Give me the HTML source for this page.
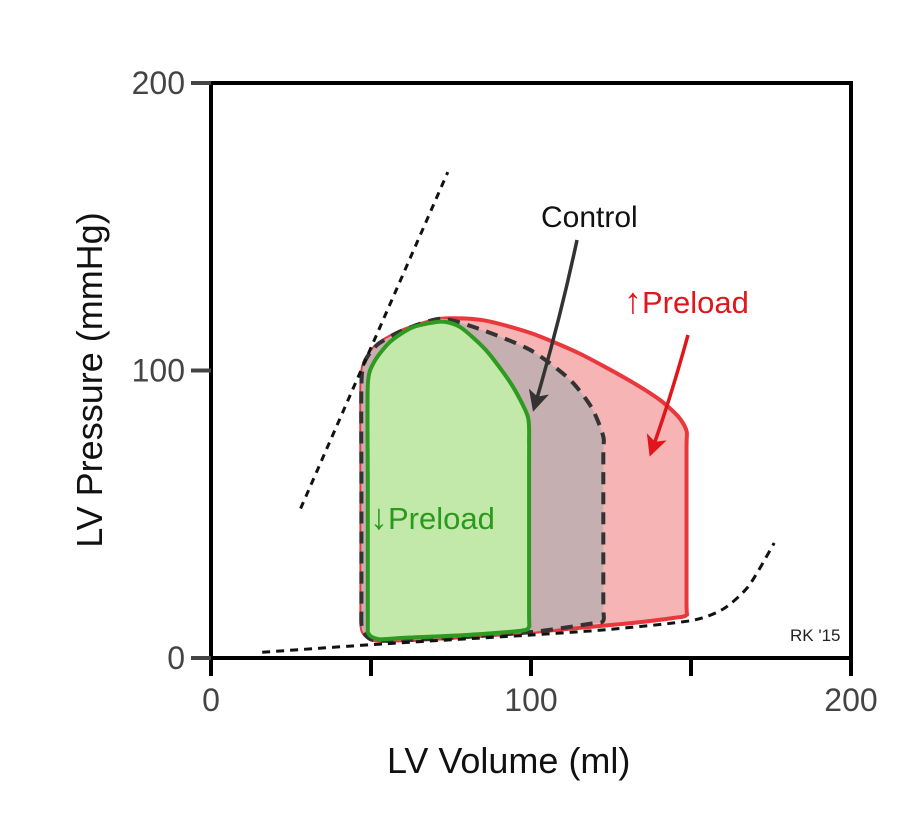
<!DOCTYPE html>
<html><head><meta charset="utf-8"><style>
body{margin:0;background:#fff}
svg{display:block;font-family:"Liberation Sans",sans-serif}
</style></head><body>
<svg id="c" width="909" height="813" viewBox="0 0 909 813"></svg>
<script>
const xTicks=[0,50,100,150,200];
const xTickLabels=["0","","100","","200"];
const yTicks=[0,100,200];
const yTickLabels=["0","100","200"];
const redLoopX=[47,47,47,47,48,52,60,72,85,100,115,130,140,146,148.6,148.6,148.6,148.6,145,130,100,75,55,50,47.5];
const redLoopY=[12,20,60,95,103,109,114,118,117.5,113,106,97,90,84,79,72,20,15,14,12,9,7,6,6.5,9];
const controlLoopX=[47,47,47,47,48,52,60,72,85,100,112,119,122.6,122.6,122.6,122.6,119,100,75,55,50,47.5];
const controlLoopY=[12,20,60,95,103,109,114,118,114,107,97,87,77,70,20,13,12,9,7,6,6.5,9];
const greenLoopX=[49,49,49,49,51,56,63,72,78,86,94,99,99.4,99.4,99.4,99.4,97,80,60,53,50,49];
const greenLoopY=[10,20,60,95,103,110,115,117,115,107,95,84,75,68,16,11,9.5,8,7,6.5,7.5,9];
const edpvrX=[16,55,100,125,150,160,168,176];
const edpvrY=[2,5,8,10,13,17,25,40];
const espvrX=[28,74];
const espvrY=[52,169];

const X0=211,X1=851,Y0=658,Y1=83;
const sx=v=>X0+(X1-X0)*v/200;
const sy=v=>Y0-(Y0-Y1)*v/200;
const NS="http://www.w3.org/2000/svg";
const svg=document.getElementById('c');
function mk(tag,attrs,parent){const e=document.createElementNS(NS,tag);for(const k in attrs)e.setAttribute(k,attrs[k]);(parent||svg).appendChild(e);return e;}
function smooth(xs,ys,closed){
  const p=xs.map((x,i)=>[sx(x),sy(ys[i])]);const n=p.length;
  let d=`M${p[0][0]},${p[0][1]}`;
  const last=closed?n:n-1;
  for(let i=0;i<last;i++){
    const p0=p[closed?(i-1+n)%n:Math.max(i-1,0)],p1=p[i],p2=p[(i+1)%n],p3=p[closed?(i+2)%n:Math.min(i+2,n-1)];
    const t=0.12;
    d+=` C${p1[0]+(p2[0]-p0[0])*t},${p1[1]+(p2[1]-p0[1])*t} ${p2[0]-(p3[0]-p1[0])*t},${p2[1]-(p3[1]-p1[1])*t} ${p2[0]},${p2[1]}`;
  }
  return d+(closed?'Z':'');
}
let e;
e=mk('path',{d:smooth(redLoopX,redLoopY,true),fill:'#f7b4b5',stroke:'#e8383d','stroke-width':4,'stroke-linejoin':'round'});


e=mk('path',{d:smooth(controlLoopX,controlLoopY,true),fill:'#c6afb1',stroke:'#333','stroke-width':4,'stroke-dasharray':'12 8'});


e=mk('path',{d:smooth(greenLoopX,greenLoopY,true),fill:'#c3e9aa',stroke:'#2e9a20','stroke-width':4,'stroke-linejoin':'round'});


e=mk('path',{d:smooth(edpvrX,edpvrY,false),fill:'none',stroke:'#111','stroke-width':3,'stroke-dasharray':'8 6'});


e=mk('line',{x1:sx(espvrX[0]),y1:sy(espvrY[0]),x2:sx(espvrX[1]),y2:sy(espvrY[1]),stroke:'#111','stroke-width':3,'stroke-dasharray':'7 6'});


e=mk('rect',{x:X0,y:Y1,width:X1-X0,height:Y0-Y1,fill:'none',stroke:'#000','stroke-width':4});


xTicks.forEach((t,i)=>{
  const l=mk('line',{x1:sx(t),x2:sx(t),y1:Y0,y2:Y0+18,stroke:'#000','stroke-width':4});
  
  
  if(xTickLabels[i]){const tx=mk('text',{x:sx(t),y:711,'text-anchor':'middle','font-size':32,fill:'#444'});tx.textContent=xTickLabels[i];
  
  }
});
yTicks.forEach((t,i)=>{
  const l=mk('line',{x1:X0-20,x2:X0,y1:sy(t),y2:sy(t),stroke:'#444','stroke-width':4});
  
  
  const tx=mk('text',{x:X0-26,y:sy(t)+11,'text-anchor':'end','font-size':32,fill:'#444'});tx.textContent=yTickLabels[i];
  
  
});
mk('defs',{}).innerHTML='<marker id="ab" markerWidth="6" markerHeight="6" refX="4" refY="3" orient="auto"><path d="M0,0 L6,3 L0,6 L1.5,3Z" fill="#333"/></marker><marker id="ar" markerWidth="6" markerHeight="6" refX="4" refY="3" orient="auto"><path d="M0,0 L6,3 L0,6 L1.5,3Z" fill="#e0161c"/></marker>';
e=mk('path',{d:'M577,240 Q560,320 535,405',fill:'none',stroke:'#333','stroke-width':3.5,'marker-end':'url(#ab)'});


e=mk('path',{d:'M688,335 Q670,400 652,450',fill:'none',stroke:'#e0161c','stroke-width':3.5,'marker-end':'url(#ar)'});


</script>
<div style="position:absolute;left:0;top:0;width:909px;height:813px;pointer-events:none;font-family:'Liberation Sans',sans-serif">
<div style="position:absolute;left:541px;top:201px;font-size:30px;color:#111">Control</div>
<div style="position:absolute;left:624px;top:280px;font-size:31px;color:#e0161c"><span style="font-size:36px">↑</span>Preload</div>
<div style="position:absolute;left:370px;top:496px;font-size:31px;color:#2a9a1d"><span style="font-size:36px">↓</span>Preload</div>
<div style="position:absolute;left:790px;top:626px;font-size:17px;color:#222">RK '15</div>
<div style="position:absolute;left:387px;top:740px;font-size:36px;color:#111">LV Volume (ml)</div>
<div style="position:absolute;left:90px;top:380px;font-size:36px;color:#111;white-space:nowrap;transform:translate(-50%,-50%) rotate(-90deg)">LV Pressure (mmHg)</div>
</div>
</body></html>
